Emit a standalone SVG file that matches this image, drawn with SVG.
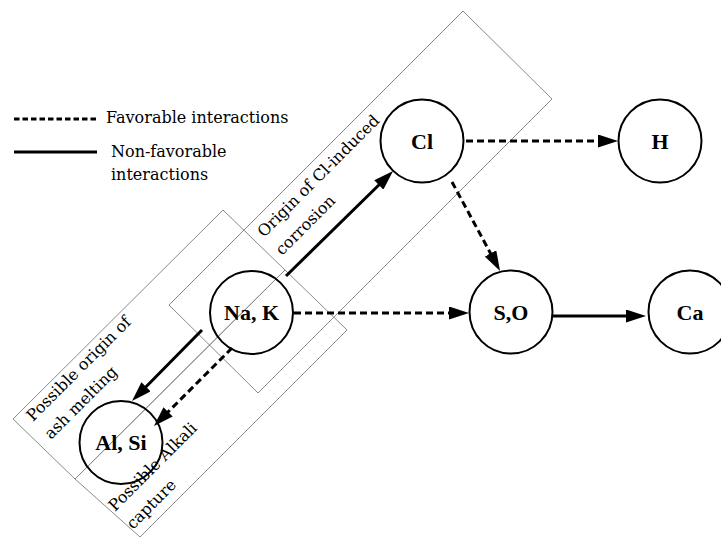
<svg xmlns="http://www.w3.org/2000/svg" width="721" height="537" viewBox="0 0 721 537">
<defs>
<style>
.region{fill:none;stroke:#8a8a8a;stroke-width:1}
.node circle{fill:#fff;stroke:#000;stroke-width:2}
.node text{font-family:"Liberation Serif","Times New Roman",serif;font-weight:bold;font-size:22px;text-anchor:middle;fill:#000}
.lbl{font-family:"DejaVu Serif","Liberation Serif",serif;font-size:16px;fill:#000}
.solid{stroke:#000;stroke-width:3;fill:none}
.dash{stroke:#000;stroke-width:3;fill:none;stroke-dasharray:7 4}
.arr{marker-end:url(#ah)}
</style>
<marker id="ah" markerUnits="userSpaceOnUse" markerWidth="20" markerHeight="13" refX="14" refY="6.5" orient="auto">
<path d="M0,0 L20,6.5 L0,13 Z" fill="#000"/>
</marker>
</defs>
<rect width="721" height="537" fill="#fff"/>

<g id="regions">
<polygon class="region" points="13,419 223,210 285,270 75,479"/>
<polygon class="region" points="75,479 285,270 347,330 140,537"/>
<polygon class="region" points="169,305 463,11 552,99 258,393"/>
<text class="lbl" transform="translate(264,238) rotate(-45)">Origin of Cl-induced</text>
<text class="lbl" transform="translate(282,256) rotate(-45)">corrosion</text>
<text class="lbl" transform="translate(33,422) rotate(-45)">Possible origin of</text>
<text class="lbl" transform="translate(51,440) rotate(-45)">ash melting</text>
<text class="lbl" transform="translate(115,512) rotate(-45)">Possible Alkali</text>
<text class="lbl" transform="translate(133,530) rotate(-45)">capture</text>
</g>

<g id="legend">
<line x1="14" y1="119" x2="97" y2="119" stroke="#000" stroke-width="3" stroke-dasharray="5.5 3"/>
<text class="lbl" x="106" y="123">Favorable interactions</text>
<line x1="14" y1="152" x2="97" y2="152" stroke="#000" stroke-width="3"/>
<text class="lbl" x="111" y="157">Non-favorable</text>
<text class="lbl" x="111" y="180">interactions</text>
</g>

<g id="connectors">
<line class="solid arr" x1="286" y1="276" x2="388.8" y2="175.2"/>
<line class="dash arr" x1="466" y1="141" x2="612" y2="141"/>
<line class="dash arr" x1="452" y1="182" x2="497.2" y2="265.7"/>
<line class="dash arr" x1="294" y1="313" x2="463" y2="313"/>
<line class="solid arr" x1="553" y1="316" x2="640" y2="316"/>
<line class="solid arr" x1="202" y1="330" x2="136.2" y2="396.7"/>
<line class="dash arr" x1="232" y1="348" x2="158.2" y2="421.8"/>
</g>

<g id="node-cl" class="node"><circle cx="422" cy="141" r="41.5" style="fill:none"/><text x="422" y="149">Cl</text></g>
<g id="node-h" class="node"><circle cx="660" cy="141" r="41.5"/><text x="660" y="149">H</text></g>
<g id="node-nak" class="node"><circle cx="251.5" cy="312.5" r="41.5" style="fill:none"/><text x="251.5" y="320">Na, K</text></g>
<g id="node-so" class="node"><circle cx="511" cy="312" r="41.5"/><text x="511" y="319.5">S,O</text></g>
<g id="node-ca" class="node"><circle cx="690" cy="312" r="41.5"/><text x="690" y="319.5">Ca</text></g>
<g id="node-alsi" class="node"><circle cx="121" cy="442.5" r="41.5" style="fill:none"/><text x="121" y="450">Al, Si</text></g>
</svg>
